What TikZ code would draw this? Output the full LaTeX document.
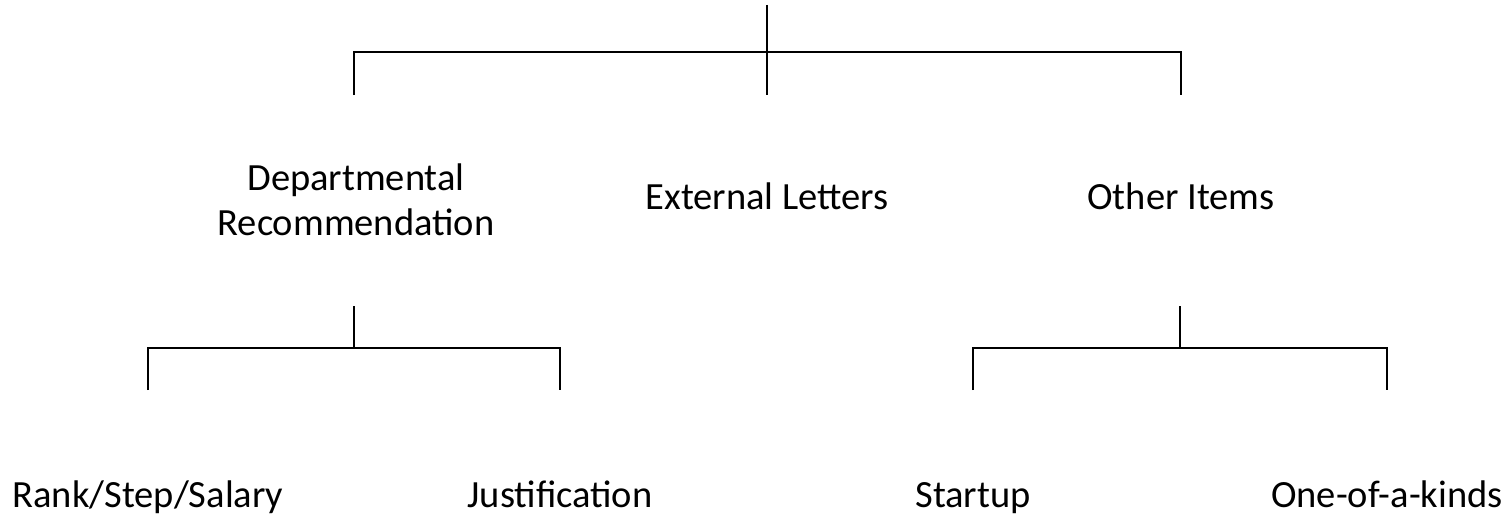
\documentclass[tikz,border=0pt]{standalone}
\usepackage{fontspec}
\setmainfont{Carlito}
\usetikzlibrary{positioning}
\tikzset{
  treenode/.style = {align=center, inner sep=0pt, text centered, anchor=base,
    font=\fontsize{38.5}{45}\selectfont},
  branch/.style = {draw=black, line width=1.8pt}% bracket lines
}
\begin{document}
\begin{tikzpicture}[x=1pt,y=-1pt]
\useasboundingbox (0,0) rectangle (1512,519);
% first level
\node [treenode] (dept) at (356,235) {Departmental\\Recommendation};
\node [treenode] (ext) at (767,209) {External Letters};
\node [treenode] (oth) at (1181,209) {Other Items};
% second level
\node [treenode] (rank) at (148,507) {Rank/Step/Salary};
\node [treenode] (just) at (560,507) {Justification};
\node [treenode] (start) at (973,507) {Startup};
\node [treenode] (kind) at (1387,507) {One-of-a-kinds};
% bracket ends
\coordinate (root) at (767,5);
\coordinate (bar1) at (767,52);
\coordinate (dept-in) at (354,95);
\coordinate (ext-in) at (767,95);
\coordinate (oth-in) at (1181,95);
\coordinate (dept-out) at (354,306);
\coordinate (bar2) at (354,348);
\coordinate (rank-in) at (148,390);
\coordinate (just-in) at (560,390);
\coordinate (oth-out) at (1180,306);
\coordinate (bar3) at (1180,348);
\coordinate (start-in) at (973,390);
\coordinate (kind-in) at (1387,390);
% brackets
\draw [branch] (root) -- (ext-in);
\draw [branch] (dept-in) |- (bar1) -| (oth-in);
\draw [branch] (dept-out) -- (bar2);
\draw [branch] (rank-in) |- (bar2) -| (just-in);
\draw [branch] (oth-out) -- (bar3);
\draw [branch] (start-in) |- (bar3) -| (kind-in);
\end{tikzpicture}
\end{document}
